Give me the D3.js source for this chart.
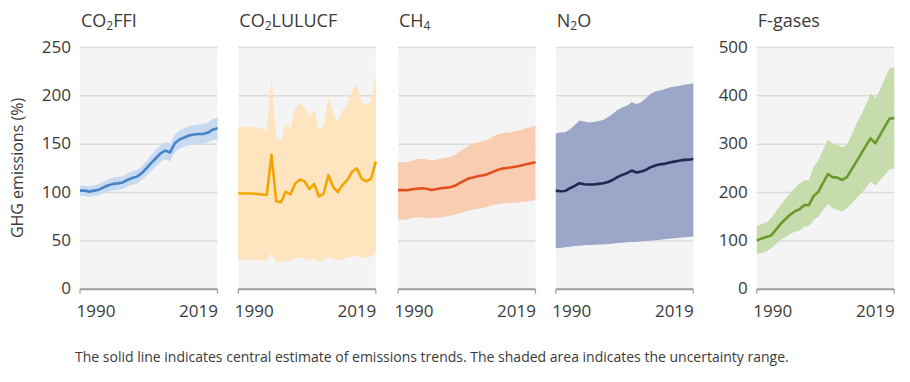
<!DOCTYPE html>
<html>
<head>
<meta charset="utf-8">
<script src="https://cdn.jsdelivr.net/npm/d3@7"></script>
<style>
  html, body { margin: 0; padding: 0; background: #fff; }
  svg { display: block; font-family: "Open Sans", "Noto Sans", sans-serif; }
</style>
</head>
<body>
<svg id="chart" width="910" height="382"></svg>
<script>
// ---- Data ----
const years = d3.range(1990, 2020);
const xTickYears = [1990, 2019];
const yTicksSmall = [0, 50, 100, 150, 200, 250];
const yTicksFgas = [0, 100, 200, 300, 400, 500];

const gasNames = ["CO2FFI", "CO2LULUCF", "CH4", "N2O", "F-gases"];

const co2ffiCentral = [102,102,101,102,103,105.5,107.5,109,109.5,110.5,113,115,116.5,120,125,130.5,135.5,140.5,143.5,141.5,151,155,157,159,160,160.5,160.5,162,165,166.5];
const co2ffiHigh    = [107,107,106.5,107.5,109,111.5,114,115.5,116,117,120,122,123.5,127,132.5,138.5,144,149,152.5,150.5,160,164.5,166.5,168.5,170,170.5,171,172.5,176,178];
const co2ffiLow     = [96.5,96.5,95.5,96.5,97.5,99.5,101,102.5,103,104,106,108,109.5,113,117.5,122.5,127,132,134.5,132.5,142,145.5,147.5,149.5,150,150.5,150.5,152,154,155];

const luluCentral = [99.5,99,99,99,98.5,98,97.5,139,91,90,101,98,109.5,113.5,111.5,103.5,109,96,99,118,106,100.5,108,113,121.5,125,114.5,111.5,114.5,132];
const luluHigh    = [168,168,168,168,167,166,164.5,221.5,156,154,171.5,166.5,187,193,189,178.5,186,164,170,198.5,182,173.5,185,191.5,206,211,194,190.5,194,221.5];
const luluLow     = [30.5,30.5,30.5,30.5,30,30,29.5,38,27.5,28.5,30,29,32,32.5,32,30,31,28.5,30,33.5,31,30,31,32.5,34,35.5,33,32.5,34,38];

const ch4Central = [102.5,102.5,102.4,103.4,104,104.5,104,102.8,103.4,104.5,105,105.5,107,109.7,112.4,114.8,115.9,117.2,118,119.3,121.4,123.4,124.8,125.5,126.2,126.9,128,129.3,130.3,131.4];
const ch4High    = [132,131.4,131.7,133,134.5,135,134.5,133,134,135,136,136.5,139,142.4,145.9,148.3,151,152,153.4,155,158,160.3,161.4,162,162.4,163.8,164.8,166.6,167.6,169.3];
const ch4Low     = [72.4,71.7,72.4,73.4,74.5,74.5,73.8,73.4,74,74.5,75.2,75.9,77.2,78.6,80,81.4,82.4,83.4,84.1,85.5,86.9,87.9,88.6,89,89.3,89.7,90.3,90.7,91.4,92.4];

const n2oCentral = [102,101.4,101.7,104.5,106.9,109.7,108.6,108.3,108.3,109,109.7,111,113,115.9,118.3,120,122.8,120.7,121.7,123.4,126.2,128,129.3,129.7,131,132,133,133.8,134,134.8];
const n2oHigh    = [161.4,162,162.4,165.5,170,174.5,173.4,172.4,173,174,175,178,181.4,185.5,188,189.7,193.4,191.7,193.4,197.6,202,204.5,205.5,207,208.6,209.7,210.3,211.4,212,213];
const n2oLow     = [42.4,42.8,43.4,44,44.8,45,45.5,45.8,45.8,46.2,46.4,46.9,47.2,47.9,48.2,48.6,48.8,49,49.6,50,50.2,50.7,51.3,51.7,52.3,52.8,53.4,53.8,54.1,54.5];

const fgasCentral = [101,105,108,111,123,135,145,154,161,165.5,174,174.5,193,202,220.5,238,232,231,226,232,248,264,280,296.5,312,302,319,336.5,353,354];
const fgasHigh    = [131,135,138,147,160.7,174.5,186,198.6,209,219,225,226,254,267.6,288,309,302,298.6,294,298.6,319,342,360.7,381,405.5,395,412,436.5,457,460.7];
const fgasLow     = [73,74.5,78,85,93,102,107.6,114,119,121,129.7,131,143.4,150,164,176.5,167.6,164,160.7,167.6,178,188,198.6,209,222.8,214,226,236.6,248,250];

// ---- Layout & styles ----
const titleParts = [
  [["CO", false], ["2", true], ["FFI", false]],
  [["CO", false], ["2", true], ["LULUCF", false]],
  [["CH", false], ["4", true]],
  [["N", false], ["2", true], ["O", false]],
  [["F-gases", false]]
];
const centrals = [co2ffiCentral, luluCentral, ch4Central, n2oCentral, fgasCentral];
const highs = [co2ffiHigh, luluHigh, ch4High, n2oHigh, fgasHigh];
const lows = [co2ffiLow, luluLow, ch4Low, n2oLow, fgasLow];
const lineColors = ["#4684c8", "#f4a600", "#e2511d", "#1b2a52", "#6a9a2b"];
const bandColors = ["#c8daf2", "#ffe4c0", "#f8cdb2", "#9ba6c8", "#c6dcad"];
const panelLefts = [80, 238.3, 398, 555.8, 756.8];
const panelW = 137.5;
const yTop = 47.5, yBottom = 289.3;
const textColor = "#3a3a3a";

const svg = d3.select("#chart");

panelLefts.forEach((left, i) => {
  const x = d3.scaleLinear().domain([1990, 2019]).range([left, left + panelW]);
  const maxV = i === 4 ? 500 : 250;
  const y = d3.scaleLinear().domain([0, maxV]).range([yBottom, yTop]);
  const ticks = i === 4 ? yTicksFgas : yTicksSmall;
  const g = svg.append("g");

  // background
  g.append("rect")
    .attr("x", left).attr("y", yTop - 0.5)
    .attr("width", panelW).attr("height", yBottom - yTop + 0.5)
    .attr("fill", "#f4f4f4");

  // gridlines
  g.selectAll("line.grid").data(ticks.filter(t => t > 0)).join("line")
    .attr("class", "grid")
    .attr("x1", left).attr("x2", left + panelW)
    .attr("y1", d => y(d)).attr("y2", d => y(d))
    .attr("stroke", "#dcdcdc").attr("stroke-width", 1.5);

  // band
  const area = d3.area()
    .x((d, k) => x(years[k]))
    .y0((d, k) => y(lows[i][k]))
    .y1((d, k) => y(highs[i][k]));
  g.append("path").datum(centrals[i])
    .attr("d", area)
    .attr("fill", bandColors[i]);

  // central line
  const line = d3.line()
    .x((d, k) => x(years[k]))
    .y(d => y(d));
  g.append("path").datum(centrals[i])
    .attr("d", line)
    .attr("fill", "none")
    .attr("stroke", lineColors[i])
    .attr("stroke-width", 2.6)
    .attr("stroke-linejoin", "round");

  // baseline axis
  g.append("line")
    .attr("x1", left).attr("x2", left + panelW)
    .attr("y1", yBottom).attr("y2", yBottom)
    .attr("stroke", "#9d9d9d").attr("stroke-width", 2);
  g.selectAll("line.xtick").data(xTickYears).join("line")
    .attr("class", "xtick")
    .attr("x1", d => x(d)).attr("x2", d => x(d))
    .attr("y1", yBottom).attr("y2", yBottom + 4.5)
    .attr("stroke", "#9d9d9d").attr("stroke-width", 1.2);

  // x labels
  g.selectAll("text.xlab").data(xTickYears).join("text")
    .attr("class", "xlab")
    .attr("x", (d, k) => k === 0 ? x(d) - 3.5 : x(d) + 0.5)
    .attr("y", 317)
    .attr("text-anchor", (d, k) => k === 0 ? "start" : "end")
    .attr("font-size", 17)
    .attr("fill", textColor)
    .text(d => d);

  // y labels (first and last panel)
  if (i === 0 || i === 4) {
    g.selectAll("text.ylab").data(ticks).join("text")
      .attr("class", "ylab")
      .attr("x", left - 9)
      .attr("y", d => y(d))
      .attr("dy", "0.3em")
      .attr("text-anchor", "end")
      .attr("font-size", 17)
      .attr("fill", textColor)
      .text(d => d);
  }

  // title
  const t = g.append("text")
    .attr("x", left + 1)
    .attr("y", 27)
    .attr("font-size", 18)
    .attr("fill", textColor);
  titleParts[i].forEach(([s, sub]) => {
    const ts = t.append("tspan").text(s);
    if (sub) ts.attr("font-size", 12).attr("dy", 3);
    else ts.attr("dy", t.selectAll("tspan").size() > 1 ? -3 : 0);
  });
});

// y-axis title
svg.append("text")
  .attr("transform", "translate(23,168) rotate(-90)")
  .attr("text-anchor", "middle")
  .attr("font-size", 16)
  .attr("fill", textColor)
  .text("GHG emissions (%)");

// footer
svg.append("text")
  .attr("x", 75)
  .attr("y", 362)
  .attr("font-size", 14)
  .attr("fill", textColor)
  .text("The solid line indicates central estimate of emissions trends. The shaded area indicates the uncertainty range.");
</script>
</body>
</html>
